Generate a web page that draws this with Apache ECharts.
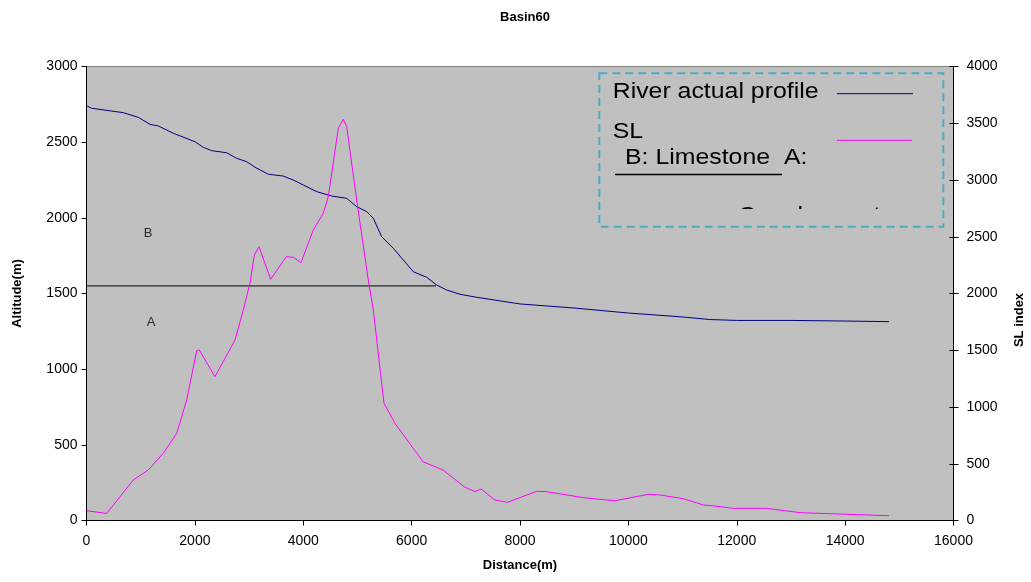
<!DOCTYPE html>
<html>
<head>
<meta charset="utf-8">
<script src="https://cdn.jsdelivr.net/npm/echarts@6/dist/echarts.min.js"></script>
<style>
html,body{margin:0;padding:0;background:#fff;}
#chart{width:1031px;height:582px;}
</style>
</head>
<body>
<div id="chart"></div>
<script>
// ---- data ----
const riverDist = [0, 96, 679, 956, 1172, 1325, 1602, 2002, 2155, 2310, 2587, 2772, 2956, 3110, 3355, 3632, 3816, 4001, 4248, 4525, 4802, 4986, 5171, 5293, 5448, 5662, 6031, 6278, 6463, 6647, 6893, 7201, 8000, 9000, 10000, 11000, 11500, 12000, 13000, 14000, 14810];
const riverAlt = [2741, 2724, 2695, 2664, 2618, 2607, 2559, 2503, 2466, 2444, 2430, 2393, 2371, 2334, 2288, 2276, 2250, 2217, 2173, 2144, 2129, 2074, 2041, 1997, 1875, 1799, 1644, 1607, 1556, 1523, 1495, 1475, 1431, 1404, 1371, 1345, 1328, 1322, 1322, 1318, 1314];
const slDist = [0, 373, 864, 1140, 1417, 1665, 1849, 2034, 2082, 2371, 2740, 2894, 3017, 3097, 3183, 3399, 3686, 3816, 3958, 4185, 4370, 4462, 4647, 4739, 4802, 4986, 5200, 5293, 5490, 5693, 6210, 6579, 6985, 7169, 7280, 7538, 7766, 8308, 8493, 9168, 9753, 10368, 10584, 11014, 11383, 11691, 11936, 12553, 13168, 14810];
const slVal = [86, 63, 357, 445, 592, 768, 1062, 1496, 1502, 1267, 1590, 1855, 2090, 2339, 2412, 2125, 2324, 2319, 2271, 2559, 2707, 2853, 3456, 3535, 3470, 2824, 2119, 1855, 1033, 856, 518, 445, 293, 254, 278, 181, 160, 257, 254, 201, 174, 231, 225, 192, 137, 122, 107, 107, 69, 42];
const boundaryDist = [0, 6450];
const boundaryAlt = [1550, 1550];
const zoneNames = ['B', 'A'];
const zoneDist = [1135, 1190];
const zoneAlt = [1900, 1312];
const seriesNames = ['River actual profile', 'SL'];
const legendExtra = ['B: Limestone  A:', 'Conglomerate'];
const titleText = 'Basin60';
const xName = 'Distance(m)';
const yLeftName = 'Altitude(m)';
const yRightName = 'SL index';

const riverColor = '#000080';
const slColor = '#FF00FF';
const pair = (xs, ys) => xs.map((x, i) => [x, ys[i]]);
const plain = v => String(v);

const chart = echarts.init(document.getElementById('chart'), null, {renderer: 'canvas'});
const font = 'Arial, "Liberation Sans", sans-serif';
const legendFont = '22px Arial, "Liberation Sans", sans-serif';

const option = {
  backgroundColor: '#ffffff',
  animation: false,
  title: {
    text: titleText, left: 520, top: 6, textAlign: 'center',
    textStyle: {fontFamily: font, fontSize: 13, fontWeight: 'bold', color: '#000'}
  },
  grid: {
    left: 86.5, right: 77.5, top: 66.5, bottom: 61.5,
    show: true, backgroundColor: '#C0C0C0', borderColor: '#808080', borderWidth: 1
  },
  xAxis: {
    type: 'value', min: 0, max: 16000, interval: 2000,
    name: xName, nameLocation: 'middle', nameGap: 38,
    nameTextStyle: {fontFamily: font, fontSize: 13, fontWeight: 'bold', color: '#000'},
    axisLine: {show: true, onZero: false, lineStyle: {color: '#000', width: 1}},
    axisTick: {show: true, length: 5, lineStyle: {color: '#000'}},
    axisLabel: {fontFamily: font, fontSize: 14, color: '#000', margin: 14, formatter: plain},
    splitLine: {show: false}
  },
  yAxis: [
    {
      type: 'value', min: 0, max: 3000, interval: 500, position: 'left',
      name: yLeftName, nameLocation: 'middle', nameGap: 63, nameRotate: 90,
      nameTextStyle: {fontFamily: font, fontSize: 13, fontWeight: 'bold', color: '#000'},
      axisLine: {show: true, lineStyle: {color: '#000', width: 1}},
      axisTick: {show: true, length: 5, lineStyle: {color: '#000'}},
      axisLabel: {fontFamily: font, fontSize: 14, color: '#000', margin: 9, formatter: plain},
      splitLine: {show: false}
    },
    {
      type: 'value', min: 0, max: 4000, interval: 500, position: 'right',
      axisLine: {show: true, lineStyle: {color: '#000', width: 1}},
      axisTick: {show: true, length: 5, lineStyle: {color: '#000'}},
      axisLabel: {fontFamily: font, fontSize: 14, color: '#000', margin: 13, formatter: plain},
      splitLine: {show: false}
    },
    {
      type: 'value', min: 0, max: 4000, interval: 500, position: 'right',
      axisLine: {show: false},
      axisTick: {show: true, inside: true, length: 4, lineStyle: {color: '#000'}},
      axisLabel: {show: false},
      splitLine: {show: false}
    }
  ],
  series: [
    {
      name: seriesNames[0], type: 'line', yAxisIndex: 0, symbol: 'none',
      data: pair(riverDist, riverAlt),
      lineStyle: {color: riverColor, width: 1}, itemStyle: {color: riverColor}, z: 3
    },
    {
      name: seriesNames[1], type: 'line', yAxisIndex: 1, symbol: 'none',
      data: pair(slDist, slVal),
      lineStyle: {color: slColor, width: 1}, itemStyle: {color: slColor}, z: 4
    },
    {
      name: 'boundary', type: 'line', yAxisIndex: 0, symbol: 'none',
      data: pair(boundaryDist, boundaryAlt),
      lineStyle: {color: '#000', width: 1}, z: 2
    },
    {
      name: 'zones', type: 'scatter', yAxisIndex: 0, symbolSize: 1,
      itemStyle: {color: 'rgba(0,0,0,0)'},
      data: zoneNames.map((n, i) => ({name: n, value: [zoneDist[i], zoneAlt[i]]})),
      label: {show: true, position: 'inside', formatter: '{b}', fontFamily: font, fontSize: 13, color: '#000'}
    }
  ],
  graphic: [
    // right axis name
    {type: 'text', x: 1019, y: 320, rotation: Math.PI / 2,
     style: {text: yRightName, font: 'bold 13px Arial, "Liberation Sans", sans-serif', fill: '#000', textAlign: 'center', textVerticalAlign: 'middle'}, z: 10},
    // legend contents
    {type: 'text', x: 612.7, y: 91.7, scaleX: 1.13,
     style: {text: seriesNames[0], font: legendFont, fill: '#000', textAlign: 'left', textVerticalAlign: 'middle'}, z: 10},
    {type: 'line', shape: {x1: 837, y1: 93.7, x2: 913, y2: 93.7}, style: {stroke: riverColor, lineWidth: 1}, z: 10},
    {type: 'text', x: 612.7, y: 131.7, scaleX: 1.13,
     style: {text: seriesNames[1], font: legendFont, fill: '#000', textAlign: 'left', textVerticalAlign: 'middle'}, z: 10},
    {type: 'line', shape: {x1: 837, y1: 140.3, x2: 912, y2: 140.3}, style: {stroke: slColor, lineWidth: 1}, z: 10},
    {type: 'text', x: 625, y: 157.7, scaleX: 1.13,
     style: {text: legendExtra[0], font: legendFont, fill: '#000', textAlign: 'left', textVerticalAlign: 'middle'}, z: 10},
    {type: 'line', shape: {x1: 615, y1: 174.5, x2: 782, y2: 174.5}, style: {stroke: '#000', lineWidth: 1.5}, z: 10},
    {type: 'text', x: 738, y: 216.3, scaleX: 1.13,
     style: {text: legendExtra[1], font: legendFont, fill: '#000', textAlign: 'left', textVerticalAlign: 'middle'}, z: 10},
    {type: 'rect', shape: {x: 601, y: 209, width: 341, height: 24}, style: {fill: '#C0C0C0'}, z: 11},
    {type: 'rect', shape: {x: 599.3, y: 73.3, width: 344, height: 153.4},
     style: {fill: null, stroke: '#4BACC6', lineWidth: 2, lineDash: [8, 5]}, z: 12}
  ]
};
chart.setOption(option);
</script>
</body>
</html>
